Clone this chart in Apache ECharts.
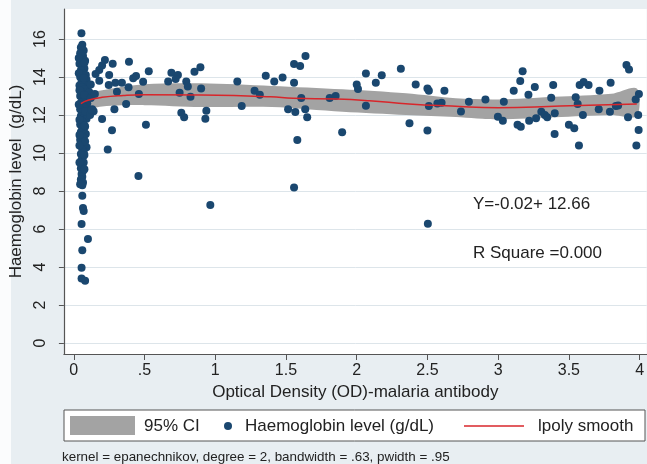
<!DOCTYPE html>
<html>
<head>
<meta charset="utf-8">
<script src="https://cdn.jsdelivr.net/npm/echarts@6/dist/echarts.min.js"></script>
<style>
  html, body { margin: 0; padding: 0; background: #e8eef2; }
  #chart { width: 647px; height: 464px; }
</style>
</head>
<body>
<div id="chart"></div>
<script>
// scatter points: OD (x) and haemoglobin g/dL (y)
const odX = [
  0.054, 0.06, 0.05, 0.07, 0.045, 0.065, 0.055, 0.08, 0.04, 0.06, 0.075, 0.05, 0.065, 0.085, 0.045, 0.06,
  0.09, 0.055, 0.07, 0.04, 0.1, 0.06, 0.08, 0.05, 0.11, 0.065, 0.045, 0.085, 0.06, 0.07, 0.05, 0.095,
  0.06, 0.075, 0.045, 0.105, 0.06, 0.08, 0.05, 0.07, 0.09, 0.055, 0.065, 0.045, 0.08, 0.06, 0.07, 0.05,
  0.085, 0.06, 0.07, 0.045, 0.065, 0.055, 0.09, 0.06, 0.07, 0.05, 0.065, 0.055, 0.07, 0.06, 0.05, 0.065,
  0.055, 0.06, 0.05, 0.065, 0.06, 0.06, 0.065, 0.07, 0.055, 0.1, 0.06, 0.055, 0.055, 0.08,
  0.035, 0.075, 0.035, 0.07, 0.04, 0.075, 0.035, 0.08, 0.04, 0.075, 0.04, 0.08, 0.04, 0.075, 0.04, 0.075,
  0.045, 0.12, 0.12, 0.115, 0.13, 0.14,
  0.22, 0.2, 0.18, 0.154, 0.275, 0.39, 0.25, 0.18, 0.247, 0.294, 0.34, 0.305, 0.149, 0.387, 0.42, 0.44,
  0.49, 0.53, 0.46, 0.37, 0.287, 0.2, 0.27, 0.24, 0.51, 0.457, 0.126, 0.667, 0.69, 0.736, 0.72, 0.748,
  0.795, 0.806, 0.825, 0.76, 0.78, 0.853, 0.895, 0.9, 0.937, 0.93, 0.965,
  1.156, 1.187, 1.278, 1.315, 1.357, 1.417, 1.476, 1.557, 1.6, 1.638, 1.557, 1.608, 1.515, 1.566, 1.636, 1.65,
  1.58, 1.557, 1.809, 1.851, 1.897, 2.0, 2.009, 2.065, 2.065, 2.135, 2.177, 2.312, 2.373, 2.417, 2.5, 2.51,
  2.51, 2.5, 2.57, 2.6, 2.62, 2.503,
  2.737, 2.793, 2.91, 2.998, 3.033, 3.04, 3.11, 3.156, 3.173, 3.137, 3.16, 3.214, 3.259, 3.219, 3.268, 3.305,
  3.33, 3.347, 3.375, 3.389, 3.4, 3.399, 3.5, 3.538, 3.571, 3.548, 3.562, 3.576, 3.604, 3.639, 3.599, 3.716,
  3.711, 3.795, 3.79, 3.832, 3.848, 3.907, 3.925, 3.918, 3.972, 3.995, 3.99, 3.993, 3.977
];
const hbY = [
  16.3, 15.7, 15.55, 15.4, 15.25, 15.1, 14.95, 14.85, 14.7, 14.6, 14.45, 14.35, 14.2, 14.1, 14.0, 13.9,
  13.85, 13.75, 13.65, 13.55, 13.5, 13.45, 13.35, 13.25, 13.2, 13.1, 13.0, 12.95, 12.85, 12.75, 12.65, 12.6,
  12.5, 12.4, 12.3, 12.25, 12.15, 12.05, 11.95, 11.85, 11.8, 11.7, 11.6, 11.5, 11.4, 11.3, 11.2, 11.1,
  11.0, 10.9, 10.8, 10.7, 10.55, 10.45, 10.3, 10.2, 10.05, 9.95, 9.8, 9.65, 9.5, 9.35, 9.2, 9.05,
  8.9, 8.75, 8.6, 8.45, 8.3, 7.75, 7.1, 6.95, 6.26, 5.47, 4.88, 3.96, 3.4, 3.28,
  15.0, 14.75, 14.2, 13.95, 13.3, 13.05, 12.55, 12.2, 11.75, 11.45, 10.95, 10.6, 10.4, 9.9, 9.5, 9.15,
  8.35, 12.9, 13.6, 12.0, 12.3, 12.2,
  14.9, 14.6, 14.37, 14.16, 14.7, 14.8, 14.1, 13.8, 13.58, 13.7, 13.7, 13.23, 13.1, 13.46, 13.93, 14.05,
  13.75, 14.3, 13.1, 12.58, 12.3, 11.79, 11.2, 10.19, 11.49, 8.79, 12.26, 13.77, 14.23, 14.1, 13.9, 13.17,
  13.76, 13.5, 12.96, 12.12, 11.88, 14.28, 14.51, 13.4, 12.23, 11.8, 7.26,
  13.77, 12.47, 13.28, 13.07, 14.07, 13.77, 13.98, 14.68, 14.58, 15.1, 13.7, 12.89, 12.3, 12.16, 12.3, 11.88,
  10.68, 8.19, 12.89, 13.0, 11.09, 13.61, 13.37, 14.19, 12.49, 13.7, 14.09, 14.44, 11.56, 13.6, 13.4, 13.28,
  12.47, 11.19, 12.61, 12.65, 13.28, 6.28,
  12.19, 12.7, 12.82, 11.91, 11.7, 12.7, 13.28, 13.79, 14.3, 11.49, 11.38, 13.07, 13.47, 11.7, 11.83, 12.17,
  12.0, 11.88, 12.91, 13.58, 12.09, 11.0, 11.49, 11.3, 10.39, 12.93, 12.58, 13.58, 13.74, 13.58, 12.0, 13.28,
  12.3, 13.7, 12.17, 12.47, 12.5, 14.63, 14.4, 11.88, 12.82, 13.1, 12.0, 11.21, 10.39
];

// lpoly smooth and its 95% CI
const smoothX = [0.05, 0.1, 0.2, 0.35, 0.5, 0.9, 1.39, 1.55, 1.86, 2.09, 2.37, 2.67, 3.0, 3.44, 3.98];
const smoothY = [12.6, 12.78, 12.93, 13.03, 13.07, 13.05, 12.96, 12.88, 12.84, 12.75, 12.58, 12.47, 12.38, 12.47, 12.58];
const ciX = [0.05, 0.2, 0.5, 0.9, 1.4, 1.9, 2.35, 2.7, 3.0, 3.4, 3.8, 3.98];
const ciLow = [12.25, 12.45, 12.52, 12.42, 12.42, 12.17, 12.0, 11.9, 11.77, 11.88, 12.0, 11.95];
const ciHigh = [12.95, 13.3, 13.62, 13.67, 13.53, 13.35, 13.14, 12.88, 12.82, 12.96, 13.12, 13.4];

// tick labels
const xTicks = [0, 0.5, 1, 1.5, 2, 2.5, 3, 3.5, 4];
const xTickLabels = ['0', '.5', '1', '1.5', '2', '2.5', '3', '3.5', '4'];
const yTicks = [0, 2, 4, 6, 8, 10, 12, 14, 16];

const font = '"Liberation Sans", Arial, sans-serif';
const navy = '#1a476f';
const red = '#d8262b';
const ciGray = '#a3a3a3';

const chart = echarts.init(document.getElementById('chart'));

const option = {
  backgroundColor: '#e8eef2',
  animation: false,
  textStyle: { fontFamily: font },
  grid: {
    left: 58, right: 0, top: 9, bottom: 110,
    show: true, backgroundColor: '#ffffff', borderWidth: 0
  },
  xAxis: {
    type: 'value',
    min: -0.07, max: 4.05,
    name: 'Optical Density (OD)-malaria antibody',
    nameLocation: 'middle',
    nameGap: 30,
    nameTextStyle: { fontSize: 17, color: '#222', fontFamily: font },
    axisLine: { onZero: false, lineStyle: { color: '#555', width: 1.2 } },
    axisTick: { customValues: xTicks, length: 6, lineStyle: { color: '#555' } },
    axisLabel: {
      customValues: xTicks,
      formatter: v => xTickLabels[xTicks.indexOf(v)],
      fontSize: 16, color: '#222', margin: 9, fontFamily: font
    },
    splitLine: { show: false }
  },
  yAxis: {
    type: 'value',
    min: -0.58, max: 17.58,
    name: 'Haemoglobin level  (g/dL)',
    nameLocation: 'middle',
    nameGap: 38,
    nameTextStyle: { fontSize: 17, color: '#222', fontFamily: font },
    axisLine: { show: true, onZero: false, lineStyle: { color: '#555', width: 1.2 } },
    axisTick: { show: true, customValues: yTicks, length: 5, lineStyle: { color: '#555' } },
    axisLabel: {
      customValues: yTicks, rotate: 90,
      fontSize: 16, color: '#222', margin: 15, fontFamily: font
    },
    splitLine: { show: true, lineStyle: { color: '#dde5ea', width: 1 } }
  },
  series: [
    {
      // 95% CI band as one polygon
      type: 'custom',
      name: '95% CI',
      data: ciX.map((x, i) => [x, ciLow[i], ciHigh[i]]),
      encode: { x: 0, y: [1, 2] },
      renderItem: function (params, api) {
        if (params.dataIndex !== 0) return;
        const pts = [];
        for (let i = 0; i < ciX.length; i++) pts.push(api.coord([ciX[i], ciHigh[i]]));
        for (let i = ciX.length - 1; i >= 0; i--) pts.push(api.coord([ciX[i], ciLow[i]]));
        return { type: 'polygon', shape: { points: pts, smooth: 0.3 }, style: { fill: ciGray } };
      },
      z: 1
    },
    {
      type: 'scatter',
      name: 'Haemoglobin level (g/dL)',
      data: odX.map((x, i) => [x, hbY[i]]),
      symbolSize: 8,
      itemStyle: { color: navy, opacity: 1 },
      z: 2
    },
    {
      type: 'line',
      name: 'lpoly smooth',
      data: smoothX.map((x, i) => [x, smoothY[i]]),
      smooth: true,
      showSymbol: false,
      lineStyle: { color: red, width: 1.5 },
      z: 3
    }
  ],
  graphic: [
    // white strip at the left edge of the figure
    { type: 'rect', left: 0, top: 0, shape: { width: 11, height: 464 }, style: { fill: '#fbfcfd' } },
    { type: 'text', left: 473, top: 196, style: { text: 'Y=-0.02+ 12.66', fontSize: 17, fill: '#222', font: '17px ' + font } },
    { type: 'text', left: 473, top: 245, style: { text: 'R Square =0.000', fontSize: 17, fill: '#222', font: '17px ' + font } },
    // legend
    { type: 'rect', shape: { x: 64, y: 410, width: 581, height: 31 }, style: { fill: '#ffffff', stroke: '#555', lineWidth: 1 } },
    { type: 'rect', shape: { x: 70, y: 416, width: 65, height: 19 }, style: { fill: ciGray } },
    { type: 'text', x: 144, y: 426, style: { text: '95% CI', font: '17px ' + font, fill: '#222', verticalAlign: 'middle' } },
    { type: 'circle', shape: { cx: 228, cy: 426, r: 4 }, style: { fill: navy } },
    { type: 'text', x: 245, y: 426, style: { text: 'Haemoglobin level (g/dL)', font: '17px ' + font, fill: '#222', verticalAlign: 'middle' } },
    { type: 'line', shape: { x1: 464, y1: 426, x2: 524, y2: 426 }, style: { stroke: red, lineWidth: 1.5 } },
    { type: 'text', x: 538, y: 426, style: { text: 'lpoly smooth', font: '17px ' + font, fill: '#222', verticalAlign: 'middle' } },
    { type: 'text', x: 62, y: 457, style: { text: 'kernel = epanechnikov, degree = 2, bandwidth = .63, pwidth = .95', font: '13.4px ' + font, fill: '#222', verticalAlign: 'middle' } }
  ]
};

chart.setOption(option);
</script>
</body>
</html>
